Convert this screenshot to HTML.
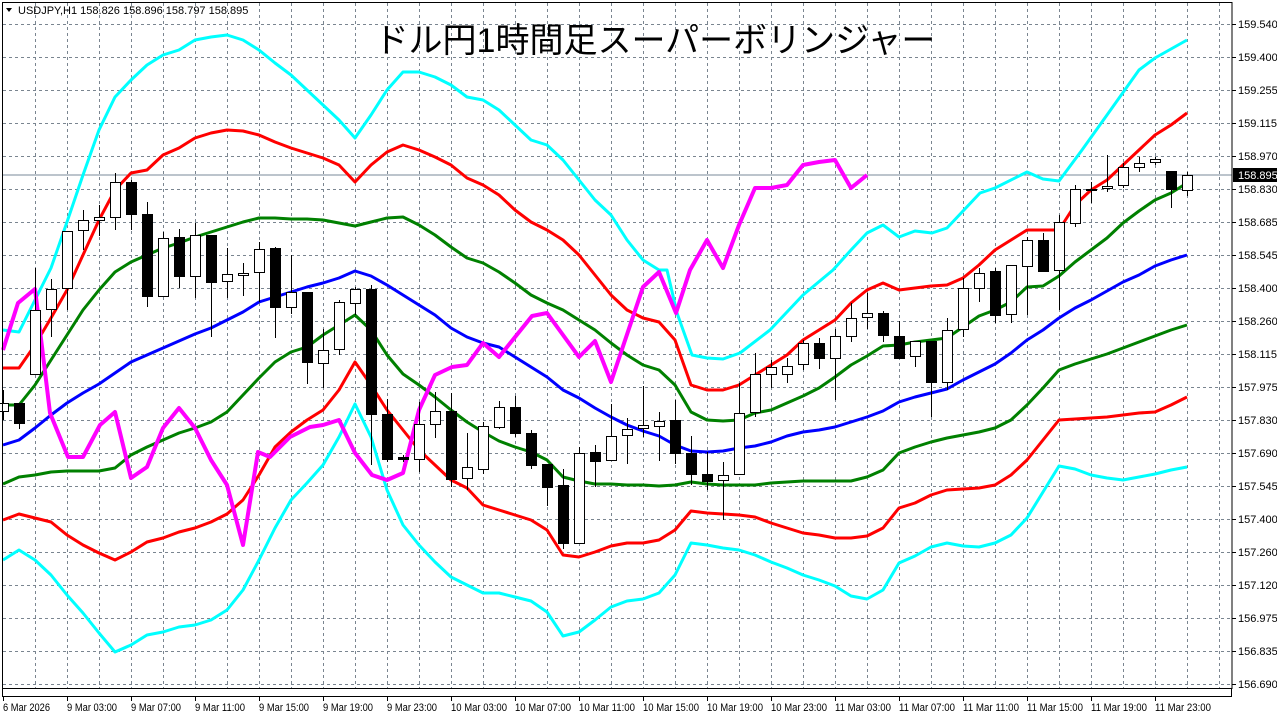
<!DOCTYPE html>
<html><head><meta charset="utf-8">
<style>
html,body{margin:0;padding:0;background:#fff;width:1277px;height:718px;overflow:hidden}
svg{display:block}
.ax{font-family:"Liberation Sans",sans-serif;font-size:11px;fill:#000}
.dt{font-family:"Liberation Sans",sans-serif;font-size:11px;fill:#000}
</style></head>
<body>
<svg id="s" width="1277" height="718" xmlns="http://www.w3.org/2000/svg">
<rect width="1277" height="718" fill="#fff"/>
<g id="grid" stroke="#7a8590" stroke-width="1" stroke-dasharray="3,3"></g>
<line x1="2" y1="175" x2="1232" y2="175" stroke="#7a8a99" stroke-width="1"/>
<g id="ind" fill="none" stroke-linejoin="round"></g>
<g id="cdl"></g>
<rect x="2.5" y="2.5" width="1229.5" height="686" fill="none" stroke="#000"/>
<rect x="2.5" y="688.5" width="1229" height="8" fill="#fff" stroke="#000"/>
<g id="tk" stroke="#000"></g>
<text x="18" y="14" class="ax" font-size="10">USDJPY,H1  158.826 158.896 158.797 158.895</text>
<path d="M6 8 L12 8 L9 12 Z" fill="#000"/>
<text x="655" y="52" text-anchor="middle" font-family="'Liberation Sans','Noto Sans CJK JP',sans-serif" font-size="34" fill="#000">ドル円1時間足スーパーボリンジャー</text>
<g class="ax">
<text x="1238" y="28">159.540</text><text x="1238" y="61">159.400</text><text x="1238" y="94">159.255</text><text x="1238" y="127">159.115</text><text x="1238" y="160">158.970</text><text x="1238" y="193">158.830</text><text x="1238" y="226">158.685</text><text x="1238" y="259">158.545</text><text x="1238" y="292">158.400</text><text x="1238" y="325">158.260</text><text x="1238" y="358">158.115</text><text x="1238" y="391">157.975</text><text x="1238" y="424">157.830</text><text x="1238" y="457">157.690</text><text x="1238" y="490">157.545</text><text x="1238" y="523">157.400</text><text x="1238" y="556">157.260</text><text x="1238" y="589">157.120</text><text x="1238" y="622">156.975</text><text x="1238" y="655">156.835</text><text x="1238" y="688">156.690</text>
</g>
<rect x="1233" y="168" width="44" height="14" fill="#000"/>
<text x="1238" y="179" class="ax" style="fill:#fff">158.895</text>
<g class="dt">
<text x="3" y="711" textLength="47" lengthAdjust="spacingAndGlyphs">6 Mar 2026</text>
<text x="67" y="711" textLength="50" lengthAdjust="spacingAndGlyphs">9 Mar 03:00</text>
<text x="131" y="711" textLength="50" lengthAdjust="spacingAndGlyphs">9 Mar 07:00</text>
<text x="195" y="711" textLength="50" lengthAdjust="spacingAndGlyphs">9 Mar 11:00</text>
<text x="259" y="711" textLength="50" lengthAdjust="spacingAndGlyphs">9 Mar 15:00</text>
<text x="323" y="711" textLength="50" lengthAdjust="spacingAndGlyphs">9 Mar 19:00</text>
<text x="387" y="711" textLength="50" lengthAdjust="spacingAndGlyphs">9 Mar 23:00</text>
<text x="451" y="711" textLength="56" lengthAdjust="spacingAndGlyphs">10 Mar 03:00</text>
<text x="515" y="711" textLength="56" lengthAdjust="spacingAndGlyphs">10 Mar 07:00</text>
<text x="579" y="711" textLength="56" lengthAdjust="spacingAndGlyphs">10 Mar 11:00</text>
<text x="643" y="711" textLength="56" lengthAdjust="spacingAndGlyphs">10 Mar 15:00</text>
<text x="707" y="711" textLength="56" lengthAdjust="spacingAndGlyphs">10 Mar 19:00</text>
<text x="771" y="711" textLength="56" lengthAdjust="spacingAndGlyphs">10 Mar 23:00</text>
<text x="835" y="711" textLength="56" lengthAdjust="spacingAndGlyphs">11 Mar 03:00</text>
<text x="899" y="711" textLength="56" lengthAdjust="spacingAndGlyphs">11 Mar 07:00</text>
<text x="963" y="711" textLength="56" lengthAdjust="spacingAndGlyphs">11 Mar 11:00</text>
<text x="1027" y="711" textLength="56" lengthAdjust="spacingAndGlyphs">11 Mar 15:00</text>
<text x="1091" y="711" textLength="56" lengthAdjust="spacingAndGlyphs">11 Mar 19:00</text>
<text x="1155" y="711" textLength="56" lengthAdjust="spacingAndGlyphs">11 Mar 23:00</text>
</g>
</svg>
<script>
var NS="http://www.w3.org/2000/svg";
function el(p,t,a){var e=document.createElementNS(NS,t);for(var k in a)e.setAttribute(k,a[k]);p.appendChild(e);return e;}
var g=document.getElementById("grid"),tk=document.getElementById("tk");
for(var x=35;x<=1219;x+=32)el(g,"line",{x1:x+.5,y1:3,x2:x+.5,y2:688});
for(var i=0;i<=20;i++){var y=24+33*i;el(g,"line",{x1:3,y1:y+.5,x2:1232,y2:y+.5});el(tk,"line",{x1:1232,y1:y+.5,x2:1236,y2:y+.5});}
for(var x=3;x<=1155;x+=64)el(tk,"line",{x1:x+.5,y1:697,x2:x+.5,y2:701});
var ind=document.getElementById("ind");
function L(pts,col,w){var d="";for(var i=0;i<pts.length;i+=2)d+=(i?"L":"M")+pts[i]+" "+pts[i+1];el(ind,"path",{d:d,stroke:col,"stroke-width":w});}
L([3,330,19,332,35,300,51,268,67,222,83,175,99,130,115,97,131,80,147,65,163,55,179,50,195,40,211,37,227,35,243,40,259,50,275,63,291,75,307,90,323,105,339,120,355,138,371,115,387,90,403,72,419,72,435,77,451,85,467,97,483,100,499,110,515,125,531,140,547,145,563,160,579,180,595,200,611,215,627,240,643,260,659,270,667,270,677,313,692,355,707,358,723,359,740,353,770,330,803,295,833,270,851,250,867,233,883,225,899,237,915,231,932,233,947,228,980,193,995,188,1027,172,1043,179,1059,181,1082,150,1107,115,1139,70,1155,58,1187,40],"#00ffff",3);
L([3,560,19,550,35,560,51,575,67,595,83,613,99,633,115,652,131,645,147,635,163,632,179,627,195,625,211,620,227,610,243,590,259,560,275,528,291,500,307,483,323,465,339,437,355,404,371,437,387,490,403,525,419,545,435,562,451,577,467,585,483,593,499,593,515,597,531,601,547,612,563,636,579,632,595,620,611,607,627,601,643,599,659,593,675,575,691,543,707,545,723,548,739,550,755,555,771,562,787,568,803,575,819,580,835,586,851,596,867,599,883,590,899,563,915,556,931,547,947,543,963,546,979,547,995,543,1011,535,1027,518,1043,492,1059,466,1075,469,1091,475,1107,478,1123,480,1139,477,1155,474,1171,470,1187,467],"#00ffff",3);
L([3,368,19,368,35,345,51,318,67,290,83,255,99,220,115,190,131,173,147,170,163,155,179,148,195,138,211,133,227,130,243,131,259,135,275,142,291,148,307,153,323,158,339,165,355,182,371,165,387,152,403,145,419,150,435,157,451,165,467,178,483,185,499,195,515,210,531,222,547,230,563,240,579,255,595,275,611,295,627,310,643,318,659,322,675,340,691,385,707,390,723,390,739,385,755,375,771,365,787,355,803,340,819,330,835,320,851,303,867,290,883,283,899,290,915,288,931,286,947,285,963,278,979,265,995,250,1011,240,1027,230,1043,230,1059,230,1075,205,1091,190,1107,180,1123,165,1139,150,1155,135,1171,125,1187,113],"#ff0000",3);
L([3,520,19,514,35,518,51,522,67,535,83,545,99,553,115,560,131,552,147,542,163,538,179,532,195,528,211,522,227,514,243,500,259,475,275,447,291,432,307,420,323,410,339,390,355,362,371,385,387,410,403,430,419,450,435,465,451,480,467,488,483,505,499,510,515,515,531,520,547,530,563,555,579,557,595,552,611,546,627,543,643,543,659,540,675,530,691,511,707,513,723,514,739,515,755,517,771,523,787,528,803,533,819,535,835,538,851,538,867,536,883,528,899,508,915,503,931,495,947,490,963,489,979,488,995,485,1011,475,1027,460,1043,440,1059,420,1075,419,1091,418,1107,417,1123,415,1139,413,1155,412,1171,405,1187,397],"#ff0000",3);
L([3,405,19,405,35,385,51,360,67,335,83,310,99,290,115,272,131,262,147,255,163,248,179,243,195,237,211,232,227,227,243,222,259,218,275,218,291,219,307,219,323,220,339,223,355,226,371,222,387,218,403,217,419,225,435,235,451,247,467,258,483,263,499,272,515,283,531,295,547,303,563,310,579,320,595,330,611,343,627,355,643,365,659,370,675,385,691,412,707,420,723,421,739,420,755,413,771,410,787,403,803,396,819,388,835,377,851,365,867,356,883,346,899,345,915,342,931,340,947,338,963,327,979,316,995,310,1011,302,1027,287,1043,286,1059,276,1075,262,1091,250,1107,238,1123,223,1139,211,1155,200,1171,193,1187,183],"#008000",3);
L([3,484,19,477,35,475,51,472,67,471,83,471,99,471,115,468,131,455,147,447,163,440,179,433,195,428,211,422,227,412,243,395,259,378,275,362,291,352,307,347,323,335,339,325,355,315,371,330,387,355,403,374,419,385,435,397,451,410,467,422,483,432,499,441,515,447,531,452,547,460,563,477,579,481,595,484,611,484,627,485,643,485,659,486,675,485,691,482,707,484,723,485,739,485,755,485,771,483,787,482,803,481,819,481,835,481,851,481,867,477,883,470,899,453,915,447,931,442,947,438,963,435,979,432,995,428,1011,420,1027,405,1043,388,1059,370,1075,364,1091,359,1107,354,1123,348,1139,342,1155,336,1171,330,1187,325],"#008000",3);
L([3,445,19,440,35,428,51,415,67,403,83,393,99,384,115,373,131,362,147,355,163,348,179,341,195,334,211,328,227,320,243,312,259,302,275,297,291,292,307,287,323,283,339,278,355,271,371,276,387,285,403,295,419,305,435,315,451,328,467,337,483,343,499,347,515,357,531,367,547,377,563,390,579,398,595,408,611,417,627,425,643,431,659,436,675,445,691,451,707,452,723,451,739,448,755,446,771,442,787,436,803,432,819,430,835,427,851,422,867,417,883,411,899,402,915,397,931,393,947,389,963,380,979,372,995,364,1011,353,1027,340,1043,330,1059,318,1075,308,1091,300,1107,291,1123,282,1139,275,1155,266,1171,260,1187,255],"#0000ff",3);
L([3,350,18,303,35,289,50,413,68,457,83,457,100,425,115,412,131,478,147,467,163,428,179,408,195,428,211,460,227,485,243,545,258,452,270,457,290,437,310,427,323,425,339,420,355,453,372,475,387,480,403,473,419,410,435,375,452,367,467,365,483,343,499,357,532,316,547,313,579,357,595,341,611,382,643,287,659,272,676,313,690,270,707,240,723,268,739,225,755,188,771,188,787,185,803,165,819,162,835,160,851,188,867,175],"#ff00ff",4);
var C=[[3,411,403,390,420],[19,403,423,403,429],[35,374,310,268,374],[51,309,289,279,337],[67,288,231,231,310],[83,230,220,210,250],[99,220,217,205,236],[115,217,182,173,230],[131,182,214,180,230],[147,214,296,202,307],[163,296,238,232,297],[179,237,276,229,288],[195,276,235,223,298],[211,235,282,235,337],[227,281,274,248,298],[243,275,273,263,296],[259,272,249,242,302],[275,248,307,247,338],[291,307,292,255,314],[307,292,362,292,384],[323,363,350,329,388],[339,349,302,300,355],[355,303,289,287,315],[371,289,414,285,465],[387,414,459,399,462],[403,457,459,455,462],[419,459,424,402,472],[435,424,411,392,438],[451,411,479,393,487],[467,478,467,433,490],[483,469,426,422,474],[499,427,407,401,429],[515,407,433,396,437],[531,433,465,430,469],[547,464,487,464,506],[563,485,543,469,549],[579,543,453,447,543],[595,452,461,445,487],[611,460,436,404,460],[627,435,429,418,464],[643,428,425,386,437],[659,426,421,412,461],[675,420,453,400,464],[691,453,474,436,485],[707,474,481,452,490],[723,480,475,462,520],[739,474,413,383,474],[755,412,374,353,417],[771,374,367,360,388],[787,374,366,358,383],[803,364,343,340,370],[819,343,358,338,369],[835,358,336,329,400],[851,336,318,303,342],[867,317,313,293,329],[883,313,335,311,342],[899,336,358,321,358],[915,356,341,341,367],[931,341,382,341,417],[947,382,330,318,390],[963,329,288,278,337],[979,288,273,268,302],[995,271,315,268,323],[1011,314,265,265,323],[1027,266,240,237,315],[1043,240,271,233,272],[1059,270,222,215,310],[1075,223,189,185,227],[1091,190,189,182,203],[1107,188,186,155,192],[1123,185,167,163,188],[1139,167,163,157,172],[1155,162,159,157,165],[1171,171,189,171,208],[1187,190,175,172,196]];
var cg=document.getElementById("cdl");
C.forEach(function(c){var x=c[0]+.5,o=c[1],cl=c[2],h=c[3],l=c[4];var top=Math.min(o,cl),bot=Math.max(o,cl);
el(cg,"line",{x1:x,y1:h,x2:x,y2:l,stroke:"#000","stroke-width":1});
el(cg,"rect",{x:c[0]-4.5,y:top+.5,width:10,height:Math.max(bot-top,1),fill:cl>o?"#000":"#fff",stroke:"#000","stroke-width":1});});
</script>
</body></html>
